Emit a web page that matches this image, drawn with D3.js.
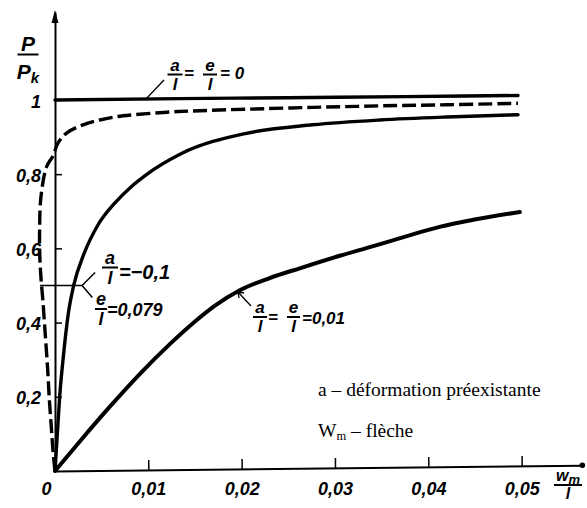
<!DOCTYPE html>
<html>
<head>
<meta charset="utf-8">
<script src="https://cdn.jsdelivr.net/npm/d3@7"></script>
<style>
  body { margin: 0; background: #fff; }
  svg { display: block; }
  .hand { font-family: "Liberation Sans", "DejaVu Sans", sans-serif; font-style: italic; font-weight: bold; }
  .serif { font-family: "Liberation Serif", "DejaVu Serif", serif; }
</style>
</head>
<body>
<div id="chart"></div>
<script>
// axes: w_m / l (x) and P / Pk (y), decimal comma as in the original
const xTicks = [0, 0.01, 0.02, 0.03, 0.04, 0.05];
const xTickLabels = ["0", "0,01", "0,02", "0,03", "0,04", "0,05"];
const yTicks = [0.2, 0.4, 0.6, 0.8, 1];
const yTickLabels = ["0,2", "0,4", "0,6", "0,8", "1"];

// a/l = e/l = 0
const curvePerfect = [[0, 1.0], [0.0134, 1.0035], [0.025, 1.006], [0.0375, 1.009], [0.0496, 1.012]];

// a/l = -0,1 (dashed, swings to negative w first)
const curveNegA = [
  [0, 0], [-0.0002, 0.05], [-0.0004, 0.12], [-0.0006, 0.19], [-0.0008, 0.28],
  [-0.00105, 0.37], [-0.0013, 0.46], [-0.0015, 0.52], [-0.00163, 0.58], [-0.00165, 0.65],
  [-0.0015, 0.74], [-0.0009, 0.82], [-0.0002, 0.85], [0.0003, 0.883], [0.0012, 0.91],
  [0.003, 0.933], [0.0048, 0.946], [0.0066, 0.955], [0.0084, 0.96], [0.012, 0.967],
  [0.0155, 0.971], [0.0205, 0.975], [0.0276, 0.98], [0.0348, 0.984], [0.042, 0.987], [0.0496, 0.991]
];

// e/l = 0,079
const curveEcc = [
  [0, 0], [0.00025, 0.1], [0.0005, 0.2], [0.0009, 0.31], [0.0014, 0.42], [0.002, 0.5],
  [0.0031, 0.585], [0.0046, 0.663], [0.0064, 0.722], [0.0082, 0.767], [0.0098, 0.799],
  [0.0135, 0.855], [0.0205, 0.91], [0.0276, 0.933], [0.0348, 0.946], [0.042, 0.954], [0.0496, 0.96]
];

// a/l = e/l = 0,01
const curveSmall = [
  [0, 0], [0.0027, 0.081], [0.0059, 0.174], [0.0091, 0.262], [0.0123, 0.342], [0.015, 0.403],
  [0.0171, 0.445], [0.0198, 0.487], [0.023, 0.52], [0.0263, 0.547], [0.0305, 0.58],
  [0.0341, 0.606], [0.0377, 0.633], [0.0412, 0.658], [0.0448, 0.677], [0.0498, 0.698]
];

const W = 587, H = 508;

const svg = d3.select("#chart").append("svg")
  .attr("width", W)
  .attr("height", H)
  .attr("viewBox", [0, 0, W, H]);

svg.append("rect").attr("width", W).attr("height", H).attr("fill", "#fff");

const x = d3.scaleLinear().domain([0, 0.0565]).range([55, 582.4]);
const y = d3.scaleLinear().domain([0, 1.237]).range([471, 12]);

const x0 = x(0), y0 = y(0);

// y axis with ticks pointing into the plot
const gy = svg.append("g")
  .attr("transform", `translate(${x0},0)`)
  .call(d3.axisLeft(y)
    .tickValues(yTicks)
    .tickSizeInner(-7)
    .tickSizeOuter(0)
    .tickPadding(14)
    .tickFormat((d, i) => yTickLabels[i]));

gy.select(".domain").attr("stroke", "#000").attr("stroke-width", 2);
gy.selectAll(".tick line").attr("stroke", "#000").attr("stroke-width", 1.5);
gy.selectAll(".tick text")
  .attr("class", "hand")
  .attr("font-size", 18)
  .attr("fill", "#000")
  .attr("dy", "0.4em");

// arrow head on top of y axis
const yTop = y.range()[1];
svg.append("path")
  .attr("d", `M${x0},${yTop - 2} L${x0 - 3.5},${yTop + 11} L${x0 + 3.5},${yTop + 11} Z`)
  .attr("fill", "#000");

// x axis line is a bit tilted on the scan
const gx = svg.append("g")
  .attr("transform", `translate(0,${y0}) rotate(-0.62,${x0},0)`)
  .call(d3.axisBottom(x)
    .tickValues(xTicks.slice(1))
    .tickSizeInner(-10)
    .tickSizeOuter(0)
    .tickFormat(""));

gx.select(".domain").attr("stroke", "#000").attr("stroke-width", 2);
gx.selectAll(".tick line").attr("stroke", "#000").attr("stroke-width", 1.5);
gx.append("circle")
  .attr("cx", x.range()[1])
  .attr("cy", 0)
  .attr("r", 2.8)
  .attr("fill", "#000");

const gxl = svg.append("g")
  .attr("transform", `translate(0,${y0})`)
  .call(d3.axisBottom(x)
    .tickValues(xTicks)
    .tickSize(0)
    .tickPadding(11)
    .tickFormat((d, i) => xTickLabels[i]));

gxl.select(".domain").remove();
gxl.selectAll(".tick text")
  .attr("class", "hand")
  .attr("font-size", 18)
  .attr("fill", "#000")
  .attr("dx", d => d === 0 ? -9 : 0);

// curves
const lineLoop = d3.line()
  .x(d => x(d[0]))
  .y(d => y(d[1]))
  .curve(d3.curveCatmullRom.alpha(0.5));

const lineMono = d3.line()
  .x(d => x(d[0]))
  .y(d => y(d[1]))
  .curve(d3.curveMonotoneX);

const gc = svg.append("g")
  .attr("fill", "none")
  .attr("stroke", "#000")
  .attr("stroke-linecap", "round");

gc.append("path").attr("d", lineMono(curvePerfect)).attr("stroke-width", 3.4);
gc.append("path").attr("d", lineLoop(curveNegA)).attr("stroke-width", 3.4)
  .attr("stroke-dasharray", "14,5").attr("stroke-linecap", "butt");
gc.append("path").attr("d", lineMono(curveEcc)).attr("stroke-width", 3.4);
gc.append("path").attr("d", lineMono(curveSmall)).attr("stroke-width", 4);

// labels
function frac(cx, barY, num, den, barW, size, denDy) {
  const g = svg.append("g")
    .attr("class", "hand")
    .attr("font-size", size)
    .attr("text-anchor", "middle")
    .attr("fill", "#000");
  g.append("text").attr("class", "num").attr("x", cx).attr("y", barY - 4).text(num);
  g.append("line")
    .attr("x1", cx - barW / 2).attr("x2", cx + barW / 2)
    .attr("y1", barY).attr("y2", barY)
    .attr("stroke", "#000").attr("stroke-width", 2);
  g.append("text").attr("class", "den").attr("x", cx)
    .attr("y", barY + (denDy || size * 0.9)).text(den);
  return g;
}

function txt(x, y, s, size) {
  return svg.append("text")
    .attr("class", "hand")
    .attr("x", x).attr("y", y)
    .attr("font-size", size)
    .attr("fill", "#000")
    .text(s);
}

// P / Pk
const gP = frac(28, 54.5, "P", "", 21, 21, 24);
gP.select(".den")
  .call(t => {
    t.append("tspan").text("P");
    t.append("tspan").attr("font-size", 15).attr("dy", 4).text("k");
  });

// w_m / l
const gWm = frac(568, 485, "", "l", 28, 16);
gWm.select(".num")
  .call(t => {
    t.append("tspan").text("w");
    t.append("tspan").attr("font-size", 13).attr("dy", 3).text("m");
  });

// a/l = e/l = 0
frac(175, 74.5, "a", "l", 15, 17);
txt(184, 79, "=", 17);
frac(210, 74.5, "e", "l", 14, 17);
txt(220, 79, "= 0", 17);
svg.append("line")
  .attr("x1", 145).attr("y1", y(1))
  .attr("x2", 164).attr("y2", 80)
  .attr("stroke", "#000").attr("stroke-width", 1.3);

// a/l = -0,1 ; e/l = 0,079
frac(110, 267.5, "a", "l", 16, 18);
txt(119, 279, "=−0,1", 20);
frac(101, 309, "e", "l", 12, 18);
txt(107, 316, "=0,079", 18);
const yHalf = y(0.5);
svg.append("path")
  .attr("d", `M${x(-0.0016)},${yHalf} H${x(0.0029)} M${x(0.0043)},${yHalf - 13} L${x(0.0029)},${yHalf} L${x(0.004)},${yHalf + 12}`)
  .attr("fill", "none")
  .attr("stroke", "#000")
  .attr("stroke-width", 1.5);

// a/l = e/l = 0,01
frac(260, 317, "a", "l", 14, 17);
txt(268, 323, "=", 17);
frac(293.5, 317, "e", "l", 13, 17);
txt(302, 324, "=0,01", 17);
svg.append("path")
  .attr("d", "M238,292 L251,306 M238,292 l1,6 M238,292 l6,1")
  .attr("fill", "none")
  .attr("stroke", "#000")
  .attr("stroke-width", 1.3);

// legend text
svg.append("text")
  .attr("class", "serif")
  .attr("x", 318).attr("y", 396)
  .attr("font-size", 19.5)
  .attr("fill", "#000")
  .text("a – déformation préexistante");

const wt = svg.append("text")
  .attr("class", "serif")
  .attr("x", 318).attr("y", 437)
  .attr("font-size", 19.5)
  .attr("fill", "#000");
wt.append("tspan").text("W");
wt.append("tspan").attr("font-size", 12.5).attr("dy", 3).text("m");
wt.append("tspan").attr("dy", -3).text(" – flèche");
</script>
</body>
</html>
